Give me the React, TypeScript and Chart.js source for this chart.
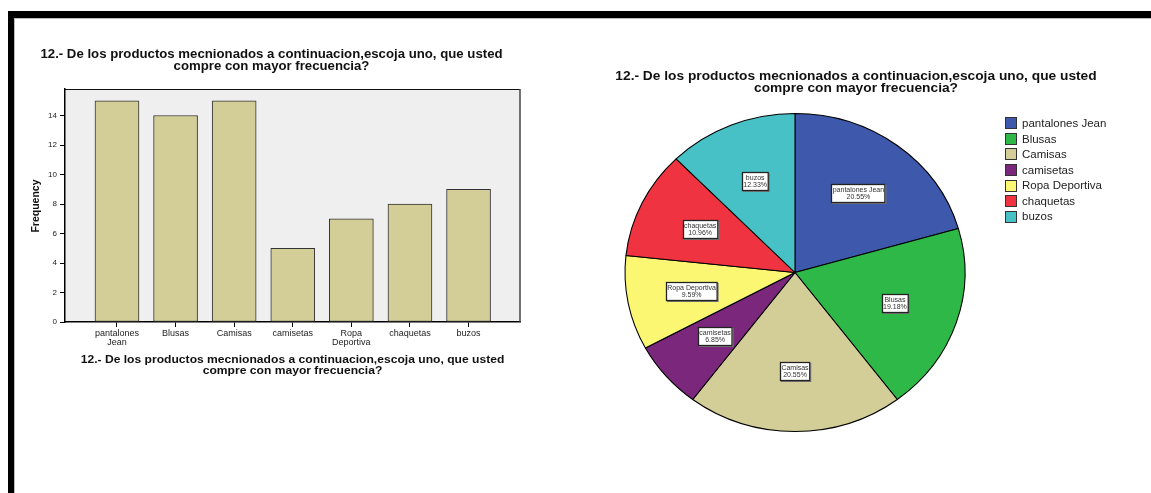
import React, { useEffect, useRef } from "react";
import { Chart, registerables } from "chart.js";
Chart.register(...registerables);

const categories = ["pantalones Jean", "Blusas", "Camisas", "camisetas", "Ropa Deportiva", "chaquetas", "buzos"];
const frequencies = [15, 14, 15, 5, 7, 8, 9];
const xTickLabels: (string | string[])[] = [["pantalones", "Jean"], "Blusas", "Camisas", "camisetas", ["Ropa", "Deportiva"], "chaquetas", "buzos"];
const yTicks = [0, 2, 4, 6, 8, 10, 12, 14];
const sliceColors = ["#3e58ac", "#2eb848", "#d3ce98", "#7b277c", "#fbf773", "#ef3340", "#48c1c6"];
const titleLines = ["12.- De los productos mecnionados a continuacion,escoja uno, que usted", "compre con mayor frecuencia?"];
const yAxisTitle = "Frequency";

const FONT = "'Liberation Sans', Arial, Helvetica, sans-serif";
const BAR_FILL = "#d3ce98";
const TEXT_SX = 1.1;

function stretchedText(ctx: CanvasRenderingContext2D, text: string, x: number, y: number, sx: number) {
  ctx.save();
  ctx.translate(x, y);
  ctx.scale(sx, 1);
  ctx.fillText(text, 0, 0);
  ctx.restore();
}

function BarChart() {
  const ref = useRef<HTMLCanvasElement | null>(null);
  useEffect(() => {
    const canvas = ref.current!;
    const bgPlugin = {
      id: "barDecor",
      beforeDraw(chart: any) {
        const { ctx, chartArea: a } = chart;
        ctx.save();
        ctx.fillStyle = "#efefef";
        ctx.fillRect(a.left, a.top, a.right - a.left, a.bottom - a.top);
        ctx.restore();
      },
      afterDraw(chart: any) {
        const { ctx, chartArea: a } = chart;
        ctx.save();
        ctx.strokeStyle = "#111";
        ctx.lineWidth = 1;
        ctx.beginPath();
        ctx.moveTo(a.left, a.top + 0.5);
        ctx.lineTo(a.right, a.top + 0.5);
        ctx.stroke();
        ctx.strokeStyle = "#444";
        ctx.lineWidth = 1.5;
        ctx.beginPath();
        ctx.moveTo(a.right, a.top);
        ctx.lineTo(a.right, a.bottom);
        ctx.stroke();
        // chart title
        ctx.fillStyle = "#111";
        ctx.textAlign = "center";
        ctx.textBaseline = "alphabetic";
        ctx.font = `bold 12px ${FONT}`;
        stretchedText(ctx, titleLines[0], 271.5, 58, TEXT_SX);
        stretchedText(ctx, titleLines[1], 271.5, 70, TEXT_SX);
        // x axis title
        const cx = (a.left + a.right) / 2;
        ctx.font = `bold 11px ${FONT}`;
        stretchedText(ctx, titleLines[0], cx, 363, TEXT_SX);
        stretchedText(ctx, titleLines[1], cx, 374, TEXT_SX);
        // y axis title
        ctx.save();
        ctx.translate(38.5, 206);
        ctx.rotate(-Math.PI / 2);
        ctx.font = `bold 10.5px ${FONT}`;
        ctx.fillText(yAxisTitle, 0, 0);
        ctx.restore();
        ctx.restore();
      },
    };
    const chart = new Chart(canvas, {
      type: "bar",
      data: {
        datasets: [
          {
            data: frequencies.map((v, i) => ({ x: i + 1, y: v })),
            backgroundColor: BAR_FILL,
            borderColor: "#333",
            borderWidth: 1,
            borderSkipped: false,
            barThickness: 44,
          } as any,
        ],
      },
      options: {
        responsive: false,
        animation: false,
        events: [],
        layout: { padding: { left: 0, right: 40, top: 89, bottom: 0 } },
        plugins: { legend: { display: false }, tooltip: { enabled: false }, title: { display: false } },
        scales: {
          x: {
            type: "linear",
            min: 0.113,
            max: 7.878,
            offset: false,
            grid: { display: true, drawOnChartArea: false, drawTicks: true, tickLength: 5, color: "#000", lineWidth: 1, offset: false },
            border: { display: true, color: "#000", width: 1.5 },
            ticks: {
              autoSkip: false,
              maxRotation: 0,
              minRotation: 0,
              padding: 2,
              color: "#222",
              font: { family: FONT, size: 9, lineHeight: 1 },
              callback: (v: any) => xTickLabels[Math.round(Number(v)) - 1] ?? "",
            },
            afterBuildTicks: (s: any) => {
              s.ticks = categories.map((_, i) => ({ value: i + 1 }));
            },
            afterFit: (s: any) => {
              s.height = 78;
            },
          },
          y: {
            type: "linear",
            min: 0,
            max: 15.8,
            grid: { display: true, drawOnChartArea: false, drawTicks: true, tickLength: 5, color: "#000", lineWidth: 1 },
            border: { display: true, color: "#000", width: 1.5 },
            ticks: { padding: 3, color: "#222", font: { family: FONT, size: 8 } },
            afterBuildTicks: (s: any) => {
              s.ticks = yTicks.map((v) => ({ value: v }));
            },
            afterFit: (s: any) => {
              s.width = 65;
            },
          },
        },
      } as any,
      plugins: [bgPlugin],
    });
    return () => chart.destroy();
  }, []);
  return <canvas ref={ref} width={560} height={400} style={{ position: "absolute", left: 0, top: 0, width: 560, height: 400 }} />;
}

function PieChart() {
  const ref = useRef<HTMLCanvasElement | null>(null);
  useEffect(() => {
    const canvas = ref.current!;
    const RY = 159;
    const KX = 170 / 159;
    const total = frequencies.reduce((a, b) => a + b, 0);
    const piePlugin = {
      id: "pieDecor",
      beforeDatasetsDraw(chart: any) {
        const { ctx } = chart;
        const arc = chart.getDatasetMeta(0).data[0];
        const cx = arc.x, cy = arc.y;
        ctx.save();
        ctx.translate(cx, cy);
        ctx.scale(KX, 1);
        ctx.translate(-cx, -cy);
      },
      afterDatasetsDraw(chart: any) {
        const { ctx } = chart;
        ctx.restore();
        const meta = chart.getDatasetMeta(0);
        ctx.save();
        ctx.font = `7px ${FONT}`;
        meta.data.forEach((el: any, i: number) => {
          const p = el.getProps(["x", "y", "startAngle", "endAngle", "outerRadius"], true);
          const mid = (p.startAngle + p.endAngle) / 2;
          const f = 0.62;
          const lx = p.x + Math.cos(mid) * p.outerRadius * f * KX;
          const ly = p.y + Math.sin(mid) * p.outerRadius * f;
          const l1 = categories[i];
          const l2 = ((frequencies[i] / total) * 100).toFixed(2) + "%";
          const w = Math.max(ctx.measureText(l1).width, ctx.measureText(l2).width) + 3;
          const h = 19;
          const bx = Math.round(lx - w / 2);
          const by = Math.round(ly - h / 2);
          ctx.fillStyle = "#777";
          ctx.fillRect(bx + 1, by + 1, w, h);
          ctx.fillStyle = "#fff";
          ctx.fillRect(bx, by, w, h);
          ctx.strokeStyle = "#222";
          ctx.lineWidth = 1.3;
          ctx.strokeRect(bx + 0.5, by + 0.5, w - 1, h - 1);
          ctx.fillStyle = "#333";
          ctx.textAlign = "center";
          ctx.textBaseline = "middle";
          ctx.fillText(l1, lx, by + 6.5);
          ctx.fillText(l2, lx, by + 13);
        });
        ctx.restore();
      },
      afterDraw(chart: any) {
        const { ctx } = chart;
        ctx.save();
        ctx.fillStyle = "#111";
        ctx.textAlign = "center";
        ctx.textBaseline = "alphabetic";
        ctx.font = `bold 12.5px ${FONT}`;
        stretchedText(ctx, titleLines[0], 296, 79.5, TEXT_SX);
        stretchedText(ctx, titleLines[1], 296, 91.5, TEXT_SX);
        // legend
        const lx = 445;
        const y0 = 123.3;
        const step = 15.55;
        ctx.font = `11.5px ${FONT}`;
        ctx.textAlign = "left";
        ctx.textBaseline = "middle";
        categories.forEach((c, i) => {
          const y = y0 + i * step;
          ctx.fillStyle = sliceColors[i];
          ctx.fillRect(lx, Math.round(y - 6), 12, 12);
          ctx.strokeStyle = "#333";
          ctx.lineWidth = 1;
          ctx.strokeRect(lx + 0.5, Math.round(y - 6) + 0.5, 11, 11);
          ctx.fillStyle = "#222";
          ctx.fillText(c, lx + 17, y + 0.5);
        });
        ctx.restore();
      },
    };
    const chart = new Chart(canvas, {
      type: "pie",
      data: {
        labels: categories,
        datasets: [
          {
            data: frequencies,
            backgroundColor: sliceColors,
            borderColor: "#000",
            borderWidth: 1,
            hoverOffset: 0,
            offset: 0,
            radius: RY,
          } as any,
        ],
      },
      options: {
        responsive: false,
        animation: false,
        events: [],
        radius: RY,
        layout: { padding: { left: 65, right: 186, top: 102.5, bottom: 50.5 } },
        plugins: { legend: { display: false }, tooltip: { enabled: false }, title: { display: false } },
      } as any,
      plugins: [piePlugin],
    });
    return () => chart.destroy();
  }, []);
  return <canvas ref={ref} width={591} height={493} style={{ position: "absolute", left: 560, top: 0, width: 591, height: 493 }} />;
}

export default function App() {
  return (
    <div style={{ position: "absolute", left: 0, top: 0, width: 1151, height: 493, overflow: "hidden", background: "#fff" }}>
      <div style={{ position: "absolute", left: 8, top: 11, width: 1143, height: 7, background: "#000" }} />
      <div style={{ position: "absolute", left: 8, top: 18, width: 1143, height: 1, background: "#bbb" }} />
      <div style={{ position: "absolute", left: 8, top: 11, width: 6, height: 482, background: "#000" }} />
      <div style={{ position: "absolute", left: 14, top: 18, width: 1, height: 475, background: "#bbb" }} />
      <BarChart />
      <PieChart />
    </div>
  );
}
